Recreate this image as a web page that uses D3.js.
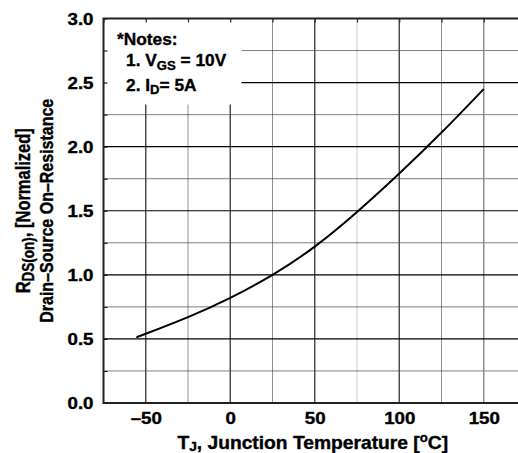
<!DOCTYPE html>
<html>
<head>
<meta charset="utf-8">
<script src="https://cdn.jsdelivr.net/npm/d3@7"></script>
<style>
  html, body { margin: 0; padding: 0; background: #fff; }
  svg { display: block; }
  text { font-family: "Liberation Sans", Arial, Helvetica, sans-serif; font-weight: bold; fill: #000; stroke: #000; stroke-width: 0.35px; }
</style>
</head>
<body>
<svg id="chart" width="518" height="453"></svg>
<script>
// junction temperature (°C) and normalized on-resistance
const tempC = [-55, -50, -25, 0, 25, 50, 75, 100, 125, 150];
const rdsNorm = [0.515, 0.54, 0.67, 0.82, 1.0, 1.22, 1.49, 1.79, 2.11, 2.45];

const xMajorTicks = [-50, 0, 50, 100, 150];
const xMinorTicks = [-25, 25, 75, 125];
const yMajorTicks = [0, 0.5, 1.0, 1.5, 2.0, 2.5, 3.0];
const yMinorTicks = [0.25, 0.75, 1.25, 1.75, 2.25, 2.75];

const width = 518, height = 453;
const marginLeft = 103.5, marginTop = 18.5, plotRight = 526, plotBottom = 403;

const svg = d3.select("#chart");

const x = d3.scaleLinear().domain([-75, 175]).range([marginLeft, plotRight]);
const y = d3.scaleLinear().domain([0, 3]).range([plotBottom, marginTop]);

// minor (dotted) grid
svg.append("g")
  .selectAll("line")
  .data(xMinorTicks)
  .join("line")
  .attr("x1", d => x(d)).attr("x2", d => x(d))
  .attr("y1", marginTop).attr("y2", plotBottom)
  .attr("stroke", d => d === 75 ? "#999" : "#222")
  .attr("stroke-width", 1)
  .attr("stroke-dasharray", "1,1");

svg.append("g")
  .selectAll("line")
  .data(yMinorTicks)
  .join("line")
  .attr("x1", marginLeft).attr("x2", plotRight)
  .attr("y1", d => y(d)).attr("y2", d => y(d))
  .attr("stroke", "#000")
  .attr("stroke-width", 1)
  .attr("stroke-dasharray", "1,1");

// major (solid) grid
svg.append("g")
  .selectAll("line")
  .data(xMajorTicks)
  .join("line")
  .attr("x1", d => x(d)).attr("x2", d => x(d))
  .attr("y1", marginTop).attr("y2", plotBottom)
  .attr("stroke", d => d === 150 ? "#888" : "#444")
  .attr("stroke-width", 1.4);

svg.append("g")
  .selectAll("line")
  .data(yMajorTicks.slice(1, -1))
  .join("line")
  .attr("x1", marginLeft).attr("x2", plotRight)
  .attr("y1", d => y(d)).attr("y2", d => y(d))
  .attr("stroke", "#000")
  .attr("stroke-width", 1.2);

// curve
const line = d3.line()
  .x((d, i) => x(tempC[i]))
  .y(d => y(d))
  .curve(d3.curveNatural);

svg.append("path")
  .datum(rdsNorm)
  .attr("fill", "none")
  .attr("stroke", "#000")
  .attr("stroke-width", 2)
  .attr("d", line);

// notes box covers the grid
svg.append("rect")
  .attr("x", marginLeft + 1)
  .attr("y", marginTop + 1)
  .attr("width", 137)
  .attr("height", 85)
  .attr("fill", "#fff");

// inner ticks on top and left borders
svg.append("g")
  .attr("transform", `translate(0,${marginTop})`)
  .call(d3.axisBottom(x).tickValues(d3.range(-75, 176, 25)).tickSize(4).tickFormat(""))
  .call(g => g.select(".domain").remove())
  .selectAll("line").attr("stroke", "#333").attr("stroke-width", 1.2);

svg.append("g")
  .attr("transform", `translate(${marginLeft},0)`)
  .call(d3.axisRight(y).tickValues(d3.range(0, 3.01, 0.25)).tickSize(4).tickFormat(""))
  .call(g => g.select(".domain").remove())
  .selectAll("line").attr("stroke", "#000").attr("stroke-width", 1);

// frame
svg.append("path")
  .attr("d", `M${plotRight},${marginTop}H${marginLeft}V${plotBottom}H${plotRight}`)
  .attr("fill", "none")
  .attr("stroke", "#222")
  .attr("stroke-width", 2);

// axis labels
const xAxis = svg.append("g")
  .attr("transform", `translate(0,${plotBottom})`)
  .call(d3.axisBottom(x).tickValues(xMajorTicks).tickSize(0).tickFormat(d => d < 0 ? "\u2013" + Math.abs(d) : d));
xAxis.select(".domain").remove();
xAxis.selectAll("text")
  .attr("y", 0).attr("dy", 0)
  .attr("transform", "translate(0,20.5) scale(1.17,1)")
  .style("font-size", "16px")
  .style("font-family", "'Liberation Sans', Arial, sans-serif")
  .style("font-weight", "bold");

const yAxis = svg.append("g")
  .attr("transform", `translate(${marginLeft},0)`)
  .call(d3.axisLeft(y).tickValues(yMajorTicks).tickSize(0).tickFormat(d3.format(".1f")));
yAxis.select(".domain").remove();
yAxis.selectAll("text")
  .attr("x", 0).attr("dy", 0)
  .attr("transform", "translate(-10,5.8) scale(1.17,1)")
  .style("font-size", "16px")
  .style("font-family", "'Liberation Sans', Arial, sans-serif")
  .style("font-weight", "bold");

// notes
const notes = svg.append("g").style("font-size", "16.5px");
notes.append("text")
  .attr("transform", "translate(117,45) scale(1.05,1)")
  .text("*Notes:");

const n1 = notes.append("text").attr("transform", "translate(126,66) scale(1.05,1)");
n1.append("tspan").text("1. V");
n1.append("tspan").attr("dy", 3.5).style("font-size", "12.5px").text("GS");
n1.append("tspan").attr("dy", -3.5).text(" = 10V");

const n2 = notes.append("text").attr("transform", "translate(126,90.5) scale(1.05,1)");
n2.append("tspan").text("2. I");
n2.append("tspan").attr("dy", 3.5).style("font-size", "12.5px").text("D");
n2.append("tspan").attr("dy", -3.5).text("= 5A");

// x title
const xt = svg.append("text")
  .attr("transform", `translate(${(marginLeft + plotRight) / 2 - 2},449) scale(1.1,1)`)
  .attr("text-anchor", "middle")
  .style("font-size", "17.5px");
xt.append("tspan").text("T");
xt.append("tspan").attr("dy", 1.5).style("font-size", "12.5px").text("J");
xt.append("tspan").attr("dy", -1.5).text(", Junction Temperature [");
xt.append("tspan").attr("dy", -7.5).style("font-size", "12px").text("o");
xt.append("tspan").attr("dy", 7.5).text("C]");

// y title (two lines)
const yc = (marginTop + plotBottom) / 2;
const yt1 = svg.append("text")
  .attr("transform", `translate(29.5,${yc}) scale(1.17,1) rotate(-90)`)
  .attr("text-anchor", "middle")
  .style("font-size", "16.5px");
yt1.append("tspan").text("R");
yt1.append("tspan").attr("dy", 3.5).style("font-size", "13.5px").text("DS(on)");
yt1.append("tspan").attr("dy", -3.5).text(", [Normalized]");

svg.append("text")
  .attr("transform", `translate(52.5,${yc}) scale(1.17,1) rotate(-90)`)
  .attr("text-anchor", "middle")
  .style("font-size", "16px")
  .text("Drain\u2013Source On\u2013Resistance");
</script>
</body>
</html>
